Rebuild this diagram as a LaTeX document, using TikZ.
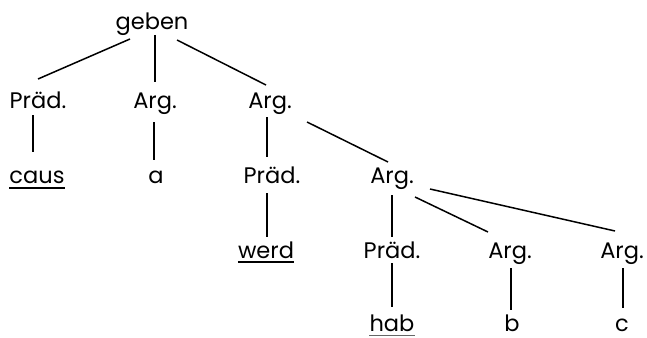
\documentclass[tikz,border=0pt]{standalone}
\usepackage{fontspec}
\setmainfont{Poppins}
\usetikzlibrary{calc}
\begin{document}
\begin{tikzpicture}[x=1pt,y=-1pt,
  lbl/.style={anchor=base,inner sep=0pt,font=\fontsize{22.5}{24}\selectfont},
  edge/.style={line width=1.5pt},
  uline/.style={line width=1.5pt}]
\useasboundingbox (0,0) rectangle (647,337);
\node[lbl] (geben) at (152,30) {geben};
\node[lbl] (p1) at (38,108) {Präd.};
\node[lbl] (a1) at (155,108) {Arg.};
\node[lbl] (a2) at (270,108) {Arg.};
\node[lbl] (caus) at (37,183) {caus};
\node[lbl] (a) at (156,183) {a};
\node[lbl] (p2) at (272,183) {Präd.};
\node[lbl] (a3) at (392,183) {Arg.};
\node[lbl] (werd) at (266,258) {werd};
\node[lbl] (p3) at (392,258) {Präd.};
\node[lbl] (a4) at (510,258) {Arg.};
\node[lbl] (a5) at (622,258) {Arg.};
\node[lbl] (hab) at (392,331) {hab};
\node[lbl] (b) at (512,331) {b};
\node[lbl] (c) at (622,331) {c};
\draw[edge] ($(geben.base)+(-22,9)$) -- ($(p1.base)+(0,-29)$);
\draw[edge] ($(geben.base)+(3,5)$) -- ($(a1.base)+(0,-26)$);
\draw[edge] ($(geben.base)+(25,10)$) -- ($(a2.base)+(-4,-23)$);
\draw[edge] ($(p1.base)+(-5,7)$) -- ($(caus.base)+(-4,-31)$);
\draw[edge] ($(a1.base)+(-1,14)$) -- ($(a.base)+(-2,-23)$);
\draw[edge] ($(a2.base)+(-3,9)$) -- ($(p2.base)+(-5,-26)$);
\draw[edge] ($(a2.base)+(37,14)$) -- ($(a3.base)+(-4,-21)$);
\draw[edge] ($(p2.base)+(-5,10)$) -- ($(werd.base)+(1,-21)$);
\draw[edge] ($(a3.base)+(0,12)$) -- ($(p3.base)+(0,-21)$);
\draw[edge] ($(a3.base)+(23,14)$) -- ($(a4.base)+(-22,-26)$);
\draw[edge] ($(a3.base)+(38,6)$) -- ($(a5.base)+(-7,-27)$);
\draw[edge] ($(p3.base)+(0,5)$) -- ($(hab.base)+(0,-24)$);
\draw[edge] ($(a4.base)+(1,10)$) -- ($(b.base)+(-1,-21)$);
\draw[edge] ($(a5.base)+(1,10)$) -- ($(c.base)+(1,-23)$);
\draw[uline] ($(caus.base west)+(0,5)$) -- ($(caus.base east)+(0,5)$);
\draw[uline] ($(werd.base west)+(0,4)$) -- ($(werd.base east)+(0,4)$);
\draw[line width=1pt,black!60] ($(hab.base west)+(0,4)$) -- ($(hab.base east)+(0,4)$);
\end{tikzpicture}
\end{document}
